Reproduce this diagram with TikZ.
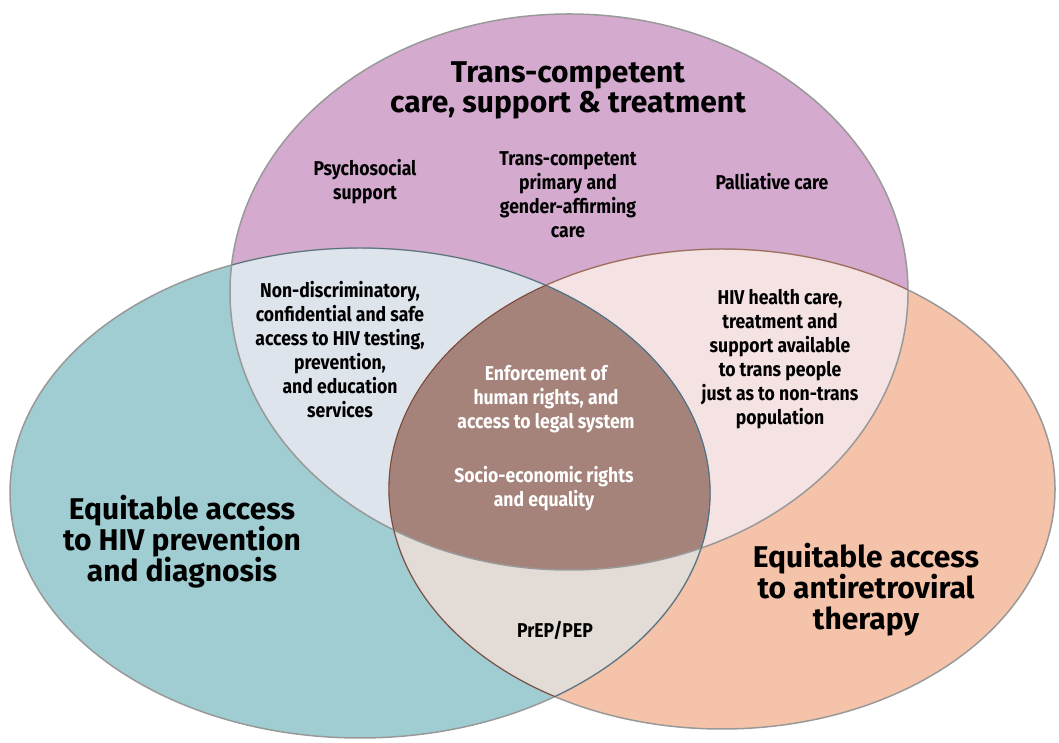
\documentclass[tikz,border=0pt]{standalone}
\usepackage{fontspec}
\setmainfont{Fira Sans}
\newfontfamily\condfont[FakeStretch=0.88]{Fira Sans}
\usepackage{xcolor}

\definecolor{topcol}{HTML}{D4AACF}
\definecolor{leftcol}{HTML}{9FCDD1}
\definecolor{rightcol}{HTML}{F5C3A9}
\definecolor{tlcol}{HTML}{DEE4EB}
\definecolor{trcol}{HTML}{F5E3E4}
\definecolor{lrcol}{HTML}{E3DBD5}
\definecolor{allcol}{HTML}{A5837A}
\definecolor{rimcol}{HTML}{999999}
\definecolor{slatecol}{HTML}{4F6F82}
\definecolor{rustcol}{HTML}{B0604A}

\newcommand\topell{(569,451) ellipse [x radius=339pt, y radius=278pt]}
\newcommand\leftell{(360,250) ellipse [x radius=350pt, y radius=245pt]}
\newcommand\rightell{(722,254) ellipse [x radius=333pt, y radius=240pt]}

\begin{document}
\begin{tikzpicture}[x=1pt,y=1pt,
    bigtext/.style={font=\fontsize{30}{31}\selectfont\bfseries, align=center},
    smalltext/.style={font=\condfont\fontsize{20}{24}\selectfont\bfseries, align=center},
    rim/.style={draw=rimcol, line width=1.5pt}]
    \useasboundingbox (0,0) rectangle (1059,743);

    % plain circles
    \fill[topcol] \topell;
    \fill[leftcol] \leftell;
    \fill[rightcol] \rightell;
    % pairwise overlaps
    \begin{scope}
        \clip \topell;
        \fill[tlcol] \leftell;
        \fill[trcol] \rightell;
    \end{scope}
    \begin{scope}
        \clip \leftell;
        \fill[lrcol] \rightell;
    \end{scope}
    % middle
    \begin{scope}
        \clip \topell;
        \clip \leftell;
        \fill[allcol] \rightell;
    \end{scope}

    % outlines
    \draw[rim] \topell;
    \draw[rim] \leftell;
    \draw[rim] \rightell;
    \begin{scope}
        \clip \topell;
        \draw[slatecol, line width=0.8pt] \leftell;
        \draw[rustcol, line width=0.8pt] \rightell;
    \end{scope}
    \begin{scope}
        \clip \rightell;
        \draw[slatecol, line width=0.8pt] \leftell;
    \end{scope}
    \begin{scope}
        \clip \leftell;
        \draw[rustcol!70!black, line width=0.8pt] \rightell;
    \end{scope}

    \node[bigtext, font=\fontsize{30}{30}\selectfont\bfseries] (ttl) at (568,653)
        {Trans-competent\\care, support \& treatment};
    \node[smalltext] (psych) at (365,561) {Psychosocial\\support};
    \node[smalltext] (primary) at (568,548)
        {Trans-competent\\primary and\\gender-affirming\\care};
    \node[smalltext] (palliative) at (772,561) {Palliative care};

    \node[smalltext] (tlnode) at (340,393.5)
        {Non-discriminatory,\\confidential and safe\\access to HIV testing,\\prevention,\\and education\\services};
    \node[smalltext] (trnode) at (780,384)
        {HIV health care,\\treatment and\\support available\\to trans people\\just as to non-trans\\population};

    \node[smalltext, text=white] (rights) at (546,344)
        {Enforcement of\\human rights, and\\access to legal system};
    \node[smalltext, text=white] (equality) at (544,254)
        {Socio-economic rights\\and equality};

    \node[smalltext] (prep) at (555,113) {PrEP/PEP};

    \node[bigtext] (lefttitle) at (182,201)
        {Equitable access\\to HIV prevention\\and diagnosis};
    \node[bigtext] (righttitle) at (866,153)
        {Equitable access\\to antiretroviral\\therapy};
\end{tikzpicture}
\end{document}
